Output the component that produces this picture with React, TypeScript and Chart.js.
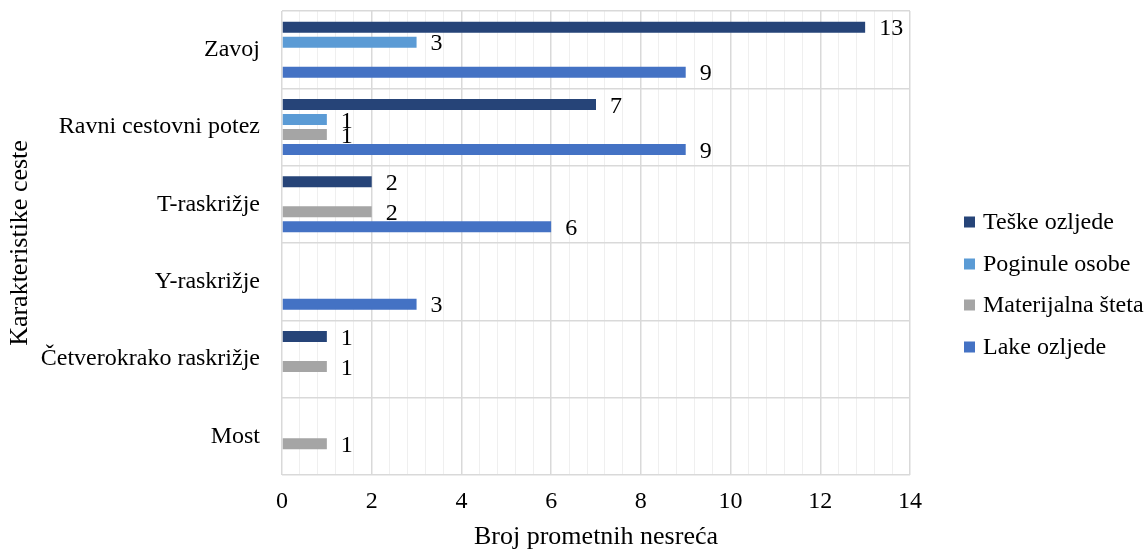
import React, { useEffect, useRef } from "react";
import { Chart, registerables } from "chart.js";

Chart.register(...registerables);

const categories = [
  "Zavoj",
  "Ravni cestovni potez",
  "T-raskrižje",
  "Y-raskrižje",
  "Četverokrako raskrižje",
  "Most",
];
const seriesNames = ["Teške ozljede", "Poginule osobe", "Materijalna šteta", "Lake ozljede"];
const teskeOzljede = [13, 7, 2, null, 1, null];
const poginuleOsobe = [3, 1, null, null, null, null];
const materijalnaSteta = [null, 1, 2, null, 1, 1];
const lakeOzljede = [9, 9, 6, 3, null, null];
const seriesColors = ["#264478", "#5B9BD5", "#A5A5A5", "#4472C4"];
const xMin = 0;
const xMax = 14;
const xMajorStep = 2;
const xMinorStep = 0.4;
const xAxisTitle = "Broj prometnih nesreća";
const yAxisTitle = "Karakteristike ceste";

const FONT = "'Liberation Serif', 'Times New Roman', serif";

const isMajor = (v: number) => {
  const r = v / xMajorStep;
  return Math.abs(r - Math.round(r)) < 1e-6;
};

const dataLabelsPlugin = {
  id: "dataLabels",
  afterDatasetsDraw(chart: any) {
    const ctx = chart.ctx;
    ctx.save();
    ctx.font = `24px ${FONT}`;
    ctx.fillStyle = "#000";
    ctx.textAlign = "left";
    ctx.textBaseline = "middle";
    chart.data.datasets.forEach((ds: any, i: number) => {
      const meta = chart.getDatasetMeta(i);
      meta.data.forEach((el: any, j: number) => {
        const v = ds.data[j];
        if (v === null || v === undefined) return;
        ctx.fillText(String(v), el.x + 14, el.y + 2);
      });
    });
    ctx.restore();
  },
};

const customLegendPlugin = {
  id: "customLegend",
  afterDraw(chart: any) {
    const ctx = chart.ctx;
    ctx.save();
    const x0 = 964;
    const ys = [222, 264, 305, 347];
    ctx.font = `24px ${FONT}`;
    ctx.textAlign = "left";
    ctx.textBaseline = "middle";
    chart.data.datasets.forEach((ds: any, i: number) => {
      const y = ys[i];
      ctx.fillStyle = ds.backgroundColor;
      ctx.fillRect(x0, y - 5.5, 11, 11);
      ctx.fillStyle = "#000";
      ctx.fillText(ds.label, x0 + 19, y + 1);
    });
    ctx.restore();
  },
};

const yTitlePlugin = {
  id: "yTitle",
  afterDraw(chart: any) {
    const ctx = chart.ctx;
    const area = chart.chartArea;
    ctx.save();
    ctx.font = `26px ${FONT}`;
    ctx.fillStyle = "#000";
    ctx.textAlign = "center";
    ctx.textBaseline = "middle";
    ctx.translate(20, (area.top + area.bottom) / 2);
    ctx.rotate(-Math.PI / 2);
    ctx.fillText(yAxisTitle, 0, 0);
    ctx.restore();
  },
};

export default function App() {
  const canvasRef = useRef<HTMLCanvasElement | null>(null);

  useEffect(() => {
    if (!canvasRef.current) return;
    const seriesData = [teskeOzljede, poginuleOsobe, materijalnaSteta, lakeOzljede];
    const chart = new Chart(canvasRef.current, {
      type: "bar",
      data: {
        labels: categories,
        datasets: seriesNames.map((name, i) => ({
          label: name,
          data: seriesData[i] as any,
          backgroundColor: seriesColors[i],
          borderWidth: 0,
          categoryPercentage: 0.776,
          barPercentage: 0.733,
        })),
      },
      options: {
        indexAxis: "y",
        animation: false,
        responsive: true,
        maintainAspectRatio: false,
        layout: { padding: { top: 11, right: 234, left: 0, bottom: 0 } },
        plugins: {
          legend: { display: false },
          tooltip: { enabled: false },
        },
        scales: {
          x: {
            type: "linear",
            min: xMin,
            max: xMax,
            ticks: {
              stepSize: xMinorStep,
              autoSkip: false,
              maxRotation: 0,
              padding: 12,
              color: "#000",
              font: { family: FONT, size: 24 },
              callback: (v: any) => (isMajor(Number(v)) ? String(Math.round(Number(v))) : ""),
            },
            grid: {
              drawTicks: false,
              color: (c: any) => (isMajor(c.tick?.value ?? 0) ? "#d9d9d9" : "#efefef"),
              lineWidth: (c: any) => (isMajor(c.tick?.value ?? 0) ? 1.5 : 1),
            },
            border: { display: false },
            title: {
              display: true,
              text: xAxisTitle,
              color: "#000",
              font: { family: FONT, size: 26 },
              padding: { top: 0, bottom: 0 },
            },
            afterFit: (scale: any) => {
              scale.height = 78;
              scale.paddingLeft = 0;
              scale.paddingRight = 0;
            },
          },
          y: {
            type: "category",
            ticks: {
              padding: 22,
              color: "#000",
              font: { family: FONT, size: 24 },
            },
            grid: {
              drawTicks: false,
              offset: true,
              color: "#d9d9d9",
              lineWidth: 1.5,
            },
            border: { display: false },
            afterFit: (scale: any) => {
              scale.width = 282;
              scale.paddingTop = 0;
              scale.paddingBottom = 0;
            },
          },
        },
      },
      plugins: [dataLabelsPlugin, customLegendPlugin, yTitlePlugin],
    } as any);
    return () => chart.destroy();
  }, []);

  return (
    <div style={{ position: "fixed", left: 0, top: 0, width: 1144, height: 553, background: "#fff" }}>
      <canvas ref={canvasRef} />
    </div>
  );
}
